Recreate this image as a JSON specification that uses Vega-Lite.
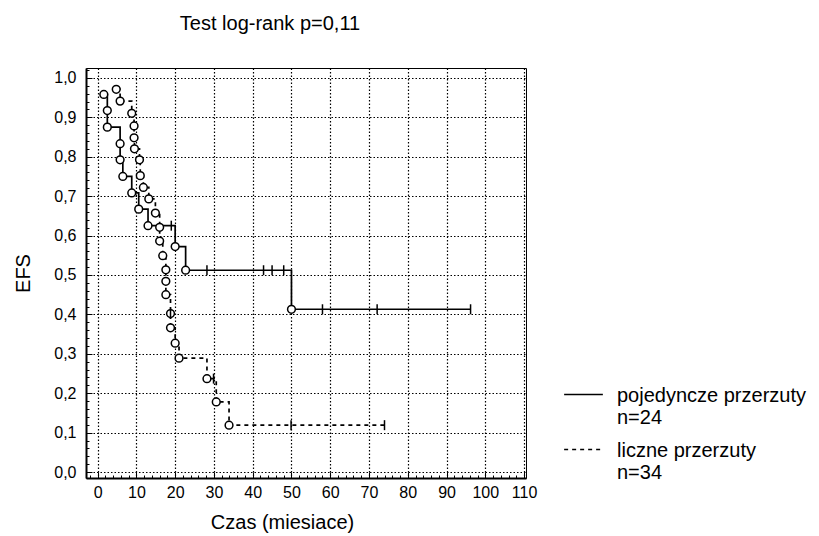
{
  "$schema": "https://vega.github.io/schema/vega-lite/v6.json",
  "width": 440,
  "height": 410,
  "autosize": {"type": "none"},
  "padding": {"left": 86, "top": 68, "right": 293, "bottom": 58},
  "background": "white",
  "config": {"font": "Liberation Sans", "view": {"stroke": "black", "strokeWidth": 1}},
  "title": {"text": "Test log-rank p=0,11", "fontSize": 20, "fontWeight": "normal", "anchor": "middle", "dx": -36, "offset": 28, "color": "black", "font": "Liberation Sans"},
  "data": {"values": [
    {"group": "pojedyncze przerzuty", "t": 1.6, "s": 0.958, "kind": "event"},
    {"group": "pojedyncze przerzuty", "t": 2.5, "s": 0.917, "kind": "event"},
    {"group": "pojedyncze przerzuty", "t": 2.5, "s": 0.875, "kind": "event"},
    {"group": "pojedyncze przerzuty", "t": 5.8, "s": 0.833, "kind": "event"},
    {"group": "pojedyncze przerzuty", "t": 5.8, "s": 0.792, "kind": "event"},
    {"group": "pojedyncze przerzuty", "t": 6.5, "s": 0.75, "kind": "event"},
    {"group": "pojedyncze przerzuty", "t": 8.8, "s": 0.708, "kind": "event"},
    {"group": "pojedyncze przerzuty", "t": 10.6, "s": 0.667, "kind": "event"},
    {"group": "pojedyncze przerzuty", "t": 13.0, "s": 0.625, "kind": "event"},
    {"group": "pojedyncze przerzuty", "t": 19.0, "s": 0.625, "kind": "censor"},
    {"group": "pojedyncze przerzuty", "t": 20.0, "s": 0.572, "kind": "event"},
    {"group": "pojedyncze przerzuty", "t": 22.7, "s": 0.512, "kind": "event"},
    {"group": "pojedyncze przerzuty", "t": 28.2, "s": 0.512, "kind": "censor"},
    {"group": "pojedyncze przerzuty", "t": 42.8, "s": 0.512, "kind": "censor"},
    {"group": "pojedyncze przerzuty", "t": 45.0, "s": 0.512, "kind": "censor"},
    {"group": "pojedyncze przerzuty", "t": 48.0, "s": 0.512, "kind": "censor"},
    {"group": "pojedyncze przerzuty", "t": 50.0, "s": 0.413, "kind": "event"},
    {"group": "pojedyncze przerzuty", "t": 58.0, "s": 0.413, "kind": "censor"},
    {"group": "pojedyncze przerzuty", "t": 72.1, "s": 0.413, "kind": "censor"},
    {"group": "pojedyncze przerzuty", "t": 96.2, "s": 0.413, "kind": "censor"},
    {"group": "liczne przerzuty", "t": 4.8, "s": 0.971, "kind": "event"},
    {"group": "liczne przerzuty", "t": 5.8, "s": 0.941, "kind": "event"},
    {"group": "liczne przerzuty", "t": 8.8, "s": 0.91, "kind": "event"},
    {"group": "liczne przerzuty", "t": 9.4, "s": 0.878, "kind": "event"},
    {"group": "liczne przerzuty", "t": 9.4, "s": 0.848, "kind": "event"},
    {"group": "liczne przerzuty", "t": 9.5, "s": 0.82, "kind": "event"},
    {"group": "liczne przerzuty", "t": 10.8, "s": 0.792, "kind": "event"},
    {"group": "liczne przerzuty", "t": 11.0, "s": 0.752, "kind": "event"},
    {"group": "liczne przerzuty", "t": 11.8, "s": 0.722, "kind": "event"},
    {"group": "liczne przerzuty", "t": 13.2, "s": 0.693, "kind": "event"},
    {"group": "liczne przerzuty", "t": 14.9, "s": 0.657, "kind": "event"},
    {"group": "liczne przerzuty", "t": 16.0, "s": 0.621, "kind": "event"},
    {"group": "liczne przerzuty", "t": 16.0, "s": 0.586, "kind": "event"},
    {"group": "liczne przerzuty", "t": 16.8, "s": 0.549, "kind": "event"},
    {"group": "liczne przerzuty", "t": 17.6, "s": 0.513, "kind": "event"},
    {"group": "liczne przerzuty", "t": 17.6, "s": 0.484, "kind": "event"},
    {"group": "liczne przerzuty", "t": 17.6, "s": 0.45, "kind": "event"},
    {"group": "liczne przerzuty", "t": 18.8, "s": 0.402, "kind": "event"},
    {"group": "liczne przerzuty", "t": 18.8, "s": 0.402, "kind": "censor"},
    {"group": "liczne przerzuty", "t": 18.8, "s": 0.366, "kind": "event"},
    {"group": "liczne przerzuty", "t": 20.0, "s": 0.327, "kind": "event"},
    {"group": "liczne przerzuty", "t": 21.0, "s": 0.289, "kind": "event"},
    {"group": "liczne przerzuty", "t": 28.2, "s": 0.237, "kind": "event"},
    {"group": "liczne przerzuty", "t": 29.9, "s": 0.237, "kind": "censor"},
    {"group": "liczne przerzuty", "t": 30.6, "s": 0.178, "kind": "event"},
    {"group": "liczne przerzuty", "t": 33.9, "s": 0.119, "kind": "event"},
    {"group": "liczne przerzuty", "t": 49.9, "s": 0.119, "kind": "censor"},
    {"group": "liczne przerzuty", "t": 74.0, "s": 0.119, "kind": "censor"}
  ]},
  "encoding": {
    "x": {
      "field": "t", "type": "quantitative",
      "scale": {"domain": [-3, 110.5], "nice": false, "zero": false},
      "title": "Czas (miesiace)",
      "axis": {
        "values": [-2,0,2,4,6,8,10,12,14,16,18,20,22,24,26,28,30,32,34,36,38,40,42,44,46,48,50,52,54,56,58,60,62,64,66,68,70,72,74,76,78,80,82,84,86,88,90,92,94,96,98,100,102,104,106,108,110],
        "labelExpr": "datum.value % 10 == 0 && datum.value >= 0 ? format(datum.value, 'd') : ''",
        "grid": true, "gridColor": "black", "gridDash": [1.5, 2], "gridWidth": 1.2,
        "gridOpacity": {"condition": {"test": "datum.value % 10 == 0 && datum.value >= 0", "value": 1}, "value": 0},
        "tickColor": "black", "tickWidth": 1,
        "tickSize": {"condition": {"test": "datum.value % 10 == 0", "value": -6}, "value": -3},
        "domainColor": "black", "domainWidth": 2,
        "labelFontSize": 16, "labelColor": "black", "labelFont": "Liberation Sans",
        "labelFlush": false, "labelOverlap": false, "labelPadding": 12,
        "titleFontSize": 20, "titleFontWeight": "normal", "titleColor": "black", "titleFont": "Liberation Sans",
        "titleX": 196, "titlePadding": 9
      }
    },
    "y": {
      "field": "s", "type": "quantitative",
      "scale": {"domain": [-0.015, 1.025], "nice": false, "zero": false},
      "title": "EFS",
      "axis": {
        "values": [0,0.02,0.04,0.06,0.08,0.1,0.12,0.14,0.16,0.18,0.2,0.22,0.24,0.26,0.28,0.3,0.32,0.34,0.36,0.38,0.4,0.42,0.44,0.46,0.48,0.5,0.52,0.54,0.56,0.58,0.6,0.62,0.64,0.66,0.68,0.7,0.72,0.74,0.76,0.78,0.8,0.82,0.84,0.86,0.88,0.9,0.92,0.94,0.96,0.98,1.0,1.02],
        "labelExpr": "abs(datum.value * 10 - round(datum.value * 10)) < 0.001 ? replace(format(datum.value, '.1f'), '.', ',') : ''",
        "grid": true, "gridColor": "black", "gridDash": [1.5, 2], "gridWidth": 1.2,
        "gridOpacity": {"condition": {"test": "abs(datum.value * 10 - round(datum.value * 10)) < 0.001", "value": 1}, "value": 0},
        "tickColor": "black", "tickWidth": 1,
        "tickSize": {"condition": {"test": "abs(datum.value * 10 - round(datum.value * 10)) < 0.001", "value": -6}, "value": -3},
        "domainColor": "black", "domainWidth": 2,
        "labelFontSize": 16, "labelColor": "black", "labelFont": "Liberation Sans",
        "labelFlush": false, "labelOverlap": false, "labelPadding": 16,
        "titleFontSize": 20, "titleFontWeight": "normal", "titleColor": "black", "titleFont": "Liberation Sans",
        "titlePadding": 20
      }
    }
  },
  "layer": [
    {
      "mark": {"type": "line", "interpolate": "step-after", "color": "black", "strokeWidth": 1.7},
      "encoding": {
        "strokeDash": {
          "field": "group", "type": "nominal",
          "scale": {"domain": ["pojedyncze przerzuty", "liczne przerzuty"], "range": [[1, 0], [4, 4]]},
          "legend": {
            "title": null, "orient": "none", "legendX": 477, "legendY": 306,
            "symbolType": "stroke", "symbolSize": 1500, "symbolStrokeWidth": 1.7, "symbolStrokeColor": "black",
            "labelFontSize": 20, "labelFont": "Liberation Sans", "labelColor": "black", "labelLimit": 0,
            "labelExpr": "datum.label == 'pojedyncze przerzuty' ? ['pojedyncze przerzuty', 'n=24'] : ['liczne przerzuty', 'n=34']",
            "labelBaseline": "alphabetic", "labelOffset": 13, "rowPadding": 1,
            "encode": {"labels": {"update": {"lineHeight": {"value": 22}, "dy": {"value": 7}}}}
          }
        },
        "order": [{"field": "t", "type": "quantitative"}, {"field": "s", "type": "quantitative", "sort": "descending"}]
      }
    },
    {
      "transform": [{"filter": "datum.kind == 'event'"}],
      "mark": {"type": "point", "shape": "circle", "size": 60, "filled": true, "fill": "white", "stroke": "black", "strokeWidth": 1.5, "opacity": 1}
    },
    {
      "transform": [{"filter": "datum.kind == 'censor'"}],
      "mark": {"type": "point", "shape": "M0,-1L0,1", "size": 100, "filled": false, "stroke": "black", "strokeWidth": 1.5, "opacity": 1}
    }
  ]
}
